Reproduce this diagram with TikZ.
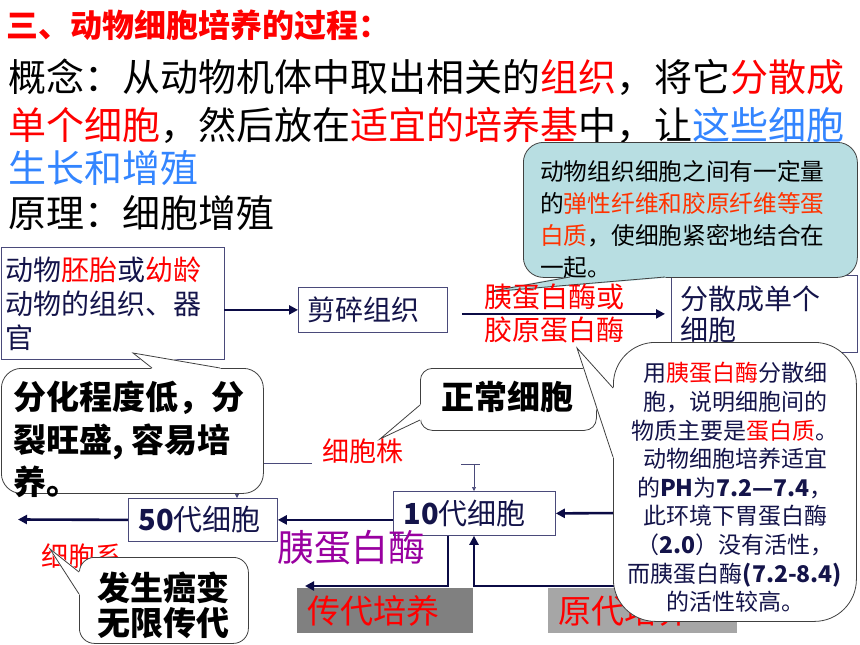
\documentclass[tikz,border=0pt]{standalone}
\usepackage{fontspec}
\setmainfont{Noto Sans CJK SC}
\usetikzlibrary{arrows.meta}
\definecolor{navy}{HTML}{14144A}
\definecolor{boxline}{HTML}{4A4A7A}
\definecolor{arrowc}{HTML}{0B0B45}
\definecolor{bubbleedge}{HTML}{404040}
\definecolor{tealc}{HTML}{B8DEE2}
\definecolor{fiberred}{HTML}{FF3300}
\definecolor{skyblue}{HTML}{3385FF}
\definecolor{purp}{HTML}{9900A0}
\definecolor{grayA}{HTML}{808080}
\definecolor{grayB}{HTML}{A6A6A6}
\newcommand{\sz}[2]{\fontsize{#1}{#2}\selectfont}
\tikzset{
  stagebox/.style={draw=boxline, line width=0.8pt, fill=white, text=navy,
    align=left, inner ysep=0pt, anchor=north west},
  graybox/.style={inner xsep=10pt, inner ysep=0pt, minimum height=45,
    text=red, align=left, anchor=north west, font=\sz{33}{33}},
  flow/.style={draw=arrowc, line width=2.6pt, -{Triangle[length=9pt,width=9pt]}},
  thinflow/.style={draw=boxline, line width=0.6pt, -{Triangle[length=4pt,width=4pt]}},
  thinline/.style={draw=boxline, line width=0.6pt},
  bubble/.style={draw=bubbleedge, line width=0.8pt, fill=white,
    rounded corners=#1, anchor=north west, inner sep=0pt},
  txt/.style={inner sep=0pt, anchor=west},
}
% pointer of a callout: fill colour, base point, tip, base point
\newcommand{\calloutptr}[4]{%
  \filldraw[fill=#1, draw=#1, line width=1.6pt, line join=round] (#2) -- (#3) -- (#4) -- cycle;
  \draw[draw=bubbleedge, line width=0.8pt] (#2) -- (#3) -- (#4);}

\begin{document}
\begin{tikzpicture}[x=1pt, y=-1pt]
  \fill[white] (0,0) rectangle (860,645);
  \useasboundingbox (0,0) rectangle (860,645);

  % heading and definition
  \node[txt, font=\sz{32}{32}\bfseries, text=red] (title) at (6,25) {三、动物细胞培养的过程：};
  \node[txt, font=\sz{38}{38}] (concept1) at (8,77) {概念：从动物机体中取出相关的{\color{red}组织}，将它{\color{red}分散成}};
  \node[txt, font=\sz{38}{38}] (concept2) at (8,125) {{\color{red}单个细胞}，然后放在{\color{red}适宜的培养基}中，让{\color{skyblue}这些细胞}};
  \node[txt, font=\sz{38}{38}, text=skyblue] (concept3) at (8,168) {生长和增殖};
  \node[txt, font=\sz{38}{38}] (principle) at (8,213) {原理：细胞增殖};

  % first row
  \node[stagebox, minimum width=223, minimum height=112, text width=213, inner xsep=5,
    font=\sz{28}{34}] (tissue) at (0.5,247) {动物{\color{red}胚胎}或{\color{red}幼龄}\\动物的组织、器\\官};
  \node[stagebox, minimum width=149, minimum height=45, text width=131, inner xsep=9,
    font=\sz{28}{34}] (mince) at (298,287) {剪碎组织};
  \node[stagebox, minimum width=186, minimum height=77, text width=168, inner xsep=9,
    font=\sz{28}{31}] (single) at (671,275) {分散成单个\\细胞};
  \draw[flow] (tissue.east |- mince.west) -- (mince.west);
  \draw[flow, shorten <=14pt, shorten >=6pt] (mince.east |- single.west) -- (single.west);

  % callout on the fibres
  \node[bubble=20pt, fill=tealc, minimum width=334, minimum height=135] (fiber) at (523,142) {};
  \calloutptr{tealc}{570,277}{487,292}{665,277}
  \node[txt, font=\sz{23.7}{32}, align=left] (fibertext) at (540,220)
    {动物组织细胞之间有一定量\\的{\color{fiberred}弹性纤维和胶原纤维等蛋}\\{\color{fiberred}白质}，使细胞紧密地结合在\\一起。};
  \node[font=\sz{28}{33}, text=red, align=center, inner sep=0pt] (enzyme) at (554,313.5) {胰蛋白酶或\\胶原蛋白酶};

  % callout below the tissue box
  \node[bubble=20pt, minimum width=262, minimum height=125] (lowdiff) at (1,368) {};
  \calloutptr{white}{152,368}{133,353}{220,368}
  \node[txt, font=\sz{33}{42.5}\bfseries, align=left] (lowdifftext) at (13,439.5)
    {分化程度低，分\\裂旺盛, 容易培\\养。};

  % normal cells
  \node[bubble=12pt, minimum width=176, minimum height=62] (normal) at (420,368) {};
  \calloutptr{white}{420,405}{380,439}{420,420}
  \node[font=\sz{33}{33}\bfseries, inner sep=0pt] (normaltext) at (507,397) {正常细胞};
  \node[font=\sz{27}{27}, text=red, inner sep=0pt] (strain) at (363,451) {细胞株};
  \coordinate (strainy) at (0,463);
  \draw[thinline] (lowdiff.east |- strainy) -- ([xshift=-10]strain.west |- strainy);

  % generations
  \node[stagebox, minimum width=162, minimum height=44, text width=142, inner xsep=10,
    font=\sz{29}{34}] (gen10) at (393,491) {\textbf{10}代细胞};
  \node[stagebox, minimum width=149, minimum height=43, text width=129, inner xsep=10,
    font=\sz{29}{34}] (gen50) at (128,498) {\textbf{50}代细胞};
  \coordinate (tbar) at (474,464);
  \draw[thinline] ([xshift=-13]tbar) -- ([xshift=6]tbar);
  \draw[thinflow] (tbar) -- (tbar |- gen10.north);
  \coordinate (tickx) at (237,0);
  \draw[thinflow] (lowdiff.south -| tickx) -- (gen50.north -| tickx);
  \coordinate (fromright) at (620,513);
  \coordinate (lineend) at (18,519.5);
  \draw[flow] (fromright) -- (gen10.east);
  \draw[flow] (gen10.west |- gen50.east) -- (gen50.east);
  \draw[flow] (gen50.west) -- (lineend);
  \node[txt, font=\sz{37}{37}, text=purp] (trypsinlabel) at (277,548) {胰蛋白酶};
  \node[font=\sz{27}{27}, text=red, inner sep=0pt] (cellline) at (82,556) {细胞系};

  % culture stages
  \node[graybox, fill=grayA, minimum width=176, text width=156] (subcult) at (297,588) {传代培养};
  \node[graybox, fill=grayB, minimum width=189, text width=169] (primcult) at (548,588) {原代培养};
  \coordinate (subcorner) at (448,586);
  \coordinate (subend) at (305,586);
  \coordinate (primstart) at (620,586);
  \coordinate (primcorner) at (474,586);
  \draw[flow, -{Triangle[length=9pt,width=9pt]}] (gen10.south -| subcorner) -- (subcorner) -- (subend);
  \draw[flow] (primstart) -- (primcorner) -- (primcorner |- gen10.south);

  % cancer callout
  \node[bubble=15pt, minimum width=169, minimum height=86] (cancer) at (79,557) {};
  \calloutptr{white}{79,572}{50,549}{79,594}
  \node[font=\sz{33}{35}\bfseries, align=center, inner sep=0pt] (cancertext) at (163,605)
    {发生癌变\\无限传代};

  % trypsin callout
  \node[bubble=42pt, minimum width=243, minimum height=279] (trypsin) at (613,342) {};
  \calloutptr{white}{613,388}{577,348}{613,457}
  \node[font=\sz{23}{28.6}, text=navy, align=center, inner sep=0pt] (trypsintext) at (735,487.5)
    {用{\color{red}胰蛋白酶}分散细\\胞，说明细胞间的\\物质主要是{\color{red}蛋白质}。\\动物细胞培养适宜\\
     的\textbf{PH}为\textbf{7.2—7.4}，\\此环境下胃蛋白酶\\（\textbf{2.0}）没有活性，\\
     而胰蛋白酶\textbf{(7.2-8.4)}\\的活性较高。};
\end{tikzpicture}
\end{document}
